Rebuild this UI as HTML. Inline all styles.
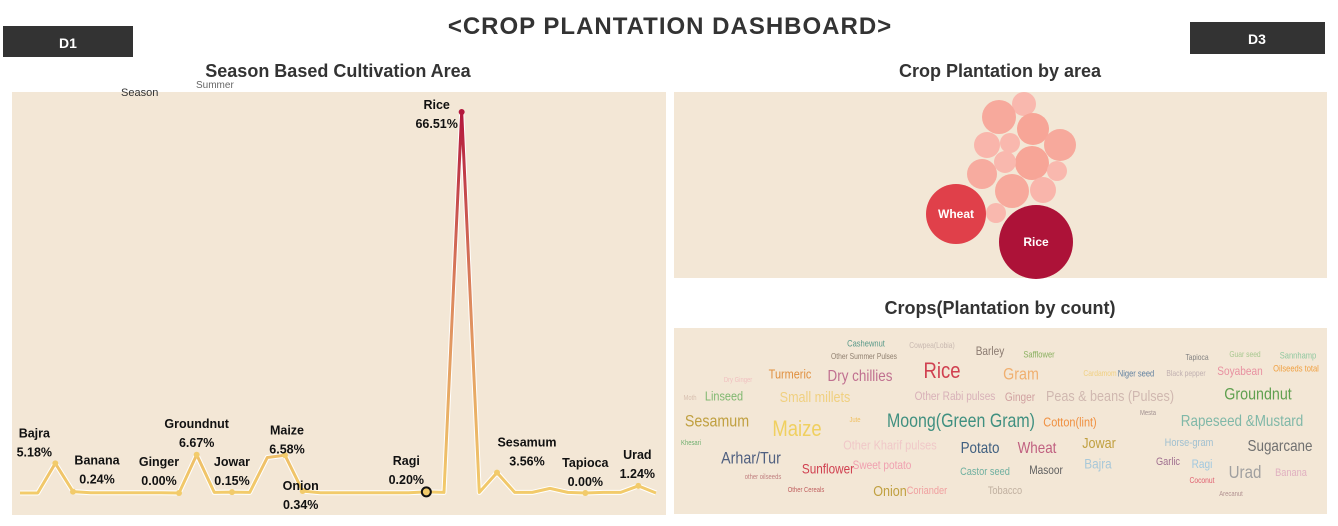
<!DOCTYPE html>
<html><head><meta charset="utf-8"><style>
body{margin:0;background:#fff;width:1338px;height:526px;overflow:hidden;font-family:"Liberation Sans",sans-serif}
svg{display:block}
</style></head><body>
<svg width="1338" height="526" viewBox="0 0 1338 526">
<defs>
<linearGradient id="lg" gradientUnits="userSpaceOnUse" x1="0" y1="493" x2="0" y2="112">
<stop offset="0" stop-color="#f2cb6b"/><stop offset="0.5" stop-color="#dd8a5e"/><stop offset="1" stop-color="#b3173d"/>
</linearGradient>
</defs>
<text x="670" y="34" text-anchor="middle" font-size="24" font-weight="bold" fill="#333" letter-spacing="1">&lt;CROP PLANTATION DASHBOARD&gt;</text>
<g><rect x="3" y="26" width="130" height="31" fill="#333"/><text x="68" y="48" text-anchor="middle" font-size="14" font-weight="bold" fill="#fff">D1</text></g>
<g><rect x="1190" y="22" width="135" height="32" fill="#333"/><text x="1257" y="44" text-anchor="middle" font-size="14" font-weight="bold" fill="#fff">D3</text></g>

<text x="338" y="77" text-anchor="middle" font-size="18" font-weight="bold" fill="#333">Season Based Cultivation Area</text>
<rect x="12" y="92" width="654" height="423" fill="#f3e7d6"/>
<text x="121" y="96" font-size="11" fill="#333">Season</text>
<text x="196" y="88" font-size="10" fill="#666">Summer</text>
<g id="line"></g>

<text x="1000" y="77" text-anchor="middle" font-size="18" font-weight="bold" fill="#333">Crop Plantation by area</text>
<rect x="674" y="92" width="653" height="186" fill="#f3e7d6"/>
<g id="bubbles"></g>

<text x="1000" y="314" text-anchor="middle" font-size="18" font-weight="bold" fill="#333">Crops(Plantation by count)</text>
<rect x="674" y="328" width="653" height="186" fill="#f3e7d6"/>
<g id="words"></g>
</svg>
<script>
const NS='http://www.w3.org/2000/svg';
// line chart data
const crops=['','','Bajra','Banana','','','','','','Ginger','Groundnut','','Jowar','','','Maize','Onion','','','','','','','Ragi','','Rice','','Sesamum','','','','','Tapioca','','','Urad',''];
const shares=[0,0,5.18,0.24,0.05,0.05,0.05,0.05,0.05,0.00,6.67,0.1,0.15,0.1,6.2,6.58,0.34,0.05,0.05,0.05,0.05,0.05,0.05,0.20,0.1,66.51,0.1,3.56,0.1,0.1,0.8,0.1,0.00,0.1,0.1,1.24,0];
const pctLabels=['','','5.18%','0.24%','','','','','','0.00%','6.67%','','0.15%','','','6.58%','0.34%','','','','','','','0.20%','','66.51%','','3.56%','','','','','0.00%','','','1.24%',''];
// label layout offsets (dx, dy of name line relative to point)
const labelOff={2:[-21,-26],3:[24,-27],9:[-20,-27],10:[0,-27],12:[0,-26],15:[2,-21],16:[-2,-1],23:[-20,-27],25:[-25,-3],27:[30,-26],32:[0,-26],35:[-1,-27]};
const xS=i=>20+i*(636/(shares.length-1));
const yS=v=>493-v*(381/66.51);
const g=document.getElementById('line');
let d=shares.map((v,i)=>(i?'L':'M')+xS(i).toFixed(1)+','+yS(v).toFixed(1)).join('');
const halo=document.createElementNS(NS,'path');halo.setAttribute('d',d);halo.setAttribute('fill','none');halo.setAttribute('stroke','#fff');halo.setAttribute('stroke-width','5');halo.setAttribute('stroke-linejoin','round');


g.appendChild(halo);
const ln=document.createElementNS(NS,'path');ln.setAttribute('d',d);ln.setAttribute('fill','none');ln.setAttribute('stroke','url(#lg)');ln.setAttribute('stroke-width','3');ln.setAttribute('stroke-linejoin','round');


g.appendChild(ln);
shares.forEach((v,i)=>{
  if(!crops[i])return;
  const c=document.createElementNS(NS,'circle');
  c.setAttribute('cx',xS(i));c.setAttribute('cy',yS(v));
  if(crops[i]==='Ragi'){c.setAttribute('r',4.5);c.setAttribute('fill','#f2cb6b');c.setAttribute('stroke','#111');c.setAttribute('stroke-width','2');}
  else{c.setAttribute('r',3);c.setAttribute('fill',v>30?'#b3173d':'#f2cb6b');}
  
  
  g.appendChild(c);
  const o=labelOff[i]||[0,-25];
  [crops[i],pctLabels[i]].forEach((s,k)=>{
    const t=document.createElementNS(NS,'text');
    t.setAttribute('x',xS(i)+o[0]);t.setAttribute('y',yS(v)+o[1]+k*19);
    t.setAttribute('text-anchor','middle');t.setAttribute('font-size','12.5');t.setAttribute('font-weight','bold');t.setAttribute('fill','#111');
    t.textContent=s;
    
    
    g.appendChild(t);
  });
});
// bubble chart
const bubbleNames=['Rice','Wheat','b1','b2','b3','b4','b5','b6','b7','b8','b9','b10','b11','b12','b13'];
const bubbleAreas=[1369,900,144,289,256,169,100,256,289,121,225,100,289,169,100];
const bubblePos=[[1036,242],[956,214],[1024,104],[999,117],[1033,129],[987,145],[1010,143],[1060,145],[1032,163],[1005,162],[982,174],[1057,171],[1012,191],[1043,190],[996,213]];
const bubbleFill=['#ad1238','#e0404a','#f9b8ae','#f7a99c','#f7a597','#f9b5ab','#f9b8ae','#f7a99c','#f7a597','#f9b8ae','#f7ab9f','#f9b8ae','#f7a99c','#f9b5ab','#f9b8ae'];
const bg=document.getElementById('bubbles');
bubbleAreas.forEach((a,i)=>{
  const c=document.createElementNS(NS,'circle');
  c.setAttribute('cx',bubblePos[i][0]);c.setAttribute('cy',bubblePos[i][1]);c.setAttribute('r',Math.sqrt(a));c.setAttribute('fill',bubbleFill[i]);
  
  
  bg.appendChild(c);
  if(i<2){const t=document.createElementNS(NS,'text');t.setAttribute('x',bubblePos[i][0]);t.setAttribute('y',bubblePos[i][1]+4);t.setAttribute('text-anchor','middle');t.setAttribute('font-size','12');t.setAttribute('font-weight','bold');t.setAttribute('fill','#fff');t.textContent=bubbleNames[i];
  
  
  bg.appendChild(t);}
});
// word cloud
const words=[['Cashewnut',866,344,9,'#5a9a8a'],['Cowpea(Lobia)',932,346,8,'#c8b8b0'],['Barley',990,352,12,'#8a7a70'],['Safflower',1039,355,9,'#8ab060'],['Other Summer Pulses',864,357,8,'#908070'],['Tapioca',1197,358,8,'#808080'],['Guar seed',1245,355,8,'#a8c890'],['Sannhamp',1298,356,9,'#90c8a0'],['Rice',942,372,22,'#d04050'],['Turmeric',790,375,13,'#e09040'],['Dry chillies',860,377,16,'#c07090'],['Gram',1021,375,17,'#f0b070'],['Dry Ginger',738,380,7,'#f0c0c0'],['Cardamom',1100,374,8,'#f0d080'],['Niger seed',1136,374,9,'#6080a0'],['Black pepper',1186,374,8,'#c0b0b0'],['Soyabean',1240,372,12,'#e890a0'],['Oilseeds total',1296,369,9,'#f0a040'],['Moth',690,398,7,'#d8c0b0'],['Linseed',724,397,13,'#80b870'],['Small millets',815,398,15,'#f0d080'],['Other Rabi pulses',955,397,12,'#d8b0b8'],['Ginger',1020,398,12,'#d0a0a0'],['Peas & beans (Pulses)',1110,397,15,'#d0b8b0'],['Groundnut',1258,395,17,'#60a050'],['Sesamum',717,422,17,'#c0a040'],['Maize',797,430,22,'#f0d060'],['Jute',855,420,7,'#f0c060'],['Moong(Green Gram)',961,422,19,'#409080'],['Cotton(lint)',1070,423,13,'#f09040'],['Mesta',1148,413,7,'#a09090'],['Rapeseed &Mustard',1242,422,16,'#80b8a8'],['Khesari',691,443,7,'#70b070'],['Other Kharif pulses',890,446,13,'#f0c8c8'],['Potato',980,449,16,'#406080'],['Wheat',1037,449,16,'#c06080'],['Jowar',1099,444,15,'#c0a040'],['Horse-gram',1189,443,11,'#a0c0d0'],['Sugarcane',1280,447,16,'#707070'],['Arhar/Tur',751,459,17,'#506080'],['Sunflower',828,470,14,'#d04050'],['Sweet potato',882,466,12,'#f0a0b0'],['Castor seed',985,472,11,'#70b0a0'],['Masoor',1046,471,12,'#606060'],['Bajra',1098,465,14,'#a8c8d8'],['Garlic',1168,462,11,'#a07090'],['Ragi',1202,465,12,'#a0c8e0'],['Urad',1245,473,18,'#a0a0a0'],['Banana',1291,473,11,'#e0b0c0'],['other oilseeds',763,477,7,'#c08080'],['Coconut',1202,481,8,'#e06070'],['Other Cereals',806,490,7,'#c06060'],['Onion',890,492,15,'#c0a040'],['Coriander',927,491,11,'#f0a0a0'],['Tobacco',1005,491,11,'#c0b0a0'],['Arecanut',1231,494,7,'#b09090']];
const wg=document.getElementById('words');
words.forEach(w=>{
  const t=document.createElementNS(NS,'text');
  t.setAttribute('x',0);t.setAttribute('y',0);t.setAttribute('text-anchor','middle');t.setAttribute('dominant-baseline','middle');
  t.setAttribute('transform','translate('+w[1]+','+w[2]+') scale(0.84,1)');
  t.setAttribute('font-size',w[3]);t.setAttribute('fill',w[4]);
  t.textContent=w[0];
  
  
  wg.appendChild(t);
});
</script>
</body></html>
